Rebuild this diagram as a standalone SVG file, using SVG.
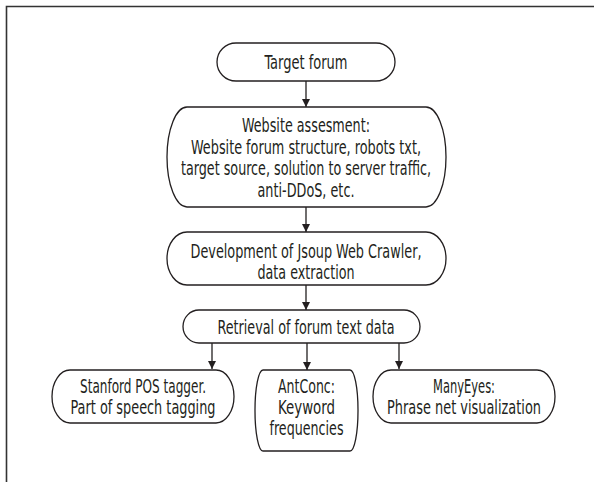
<svg xmlns="http://www.w3.org/2000/svg" width="594" height="482" viewBox="0 0 594 482">
<defs>
<style>
.box{fill:#fff;stroke:#231f20;stroke-width:1.3}
.t{font-family:"Liberation Sans Narrow","DejaVu Sans Condensed","Liberation Sans",sans-serif;font-size:19px;fill:#231f20;text-anchor:middle}
.c{stroke:#231f20;stroke-width:1.3;fill:none;marker-end:url(#ah)}
</style>
<marker id="ah" viewBox="0 0 10 10" refX="10" refY="5" markerWidth="9" markerHeight="8" markerUnits="userSpaceOnUse" orient="auto">
<path d="M0,0 L10,5 L0,10 z" fill="#231f20"/>
</marker>
</defs>
<rect width="594" height="482" fill="#fff"/>
<path d="M6.5,482 V6.5 H594" fill="none" stroke="#333" stroke-width="1.6"/>
<g id="connectors">
<line class="c" x1="306" y1="81" x2="306" y2="107"/>
<line class="c" x1="306" y1="207" x2="306" y2="232"/>
<line class="c" x1="306" y1="285" x2="306" y2="310"/>
<line class="c" x1="212" y1="343" x2="212" y2="369"/>
<line class="c" x1="307" y1="343" x2="307" y2="370"/>
<line class="c" x1="399" y1="343" x2="399" y2="369"/>
</g>
<g id="target">
<rect class="box" x="217" y="43" width="178" height="38" rx="19" ry="19"/>
<text class="t" x="306" y="69" textLength="83" lengthAdjust="spacingAndGlyphs">Target forum</text>
</g>
<g id="assessment">
<rect class="box" x="167" y="107" width="279" height="100" rx="20" ry="50"/>
<text class="t" x="306" y="132" textLength="128" lengthAdjust="spacingAndGlyphs">Website assesment:</text>
<text class="t" x="306" y="154" textLength="230" lengthAdjust="spacingAndGlyphs">Website forum structure, robots txt,</text>
<text class="t" x="306" y="175" textLength="250" lengthAdjust="spacingAndGlyphs">target source, solution to server traffic,</text>
<text class="t" x="306" y="197" textLength="97" lengthAdjust="spacingAndGlyphs">anti-DDoS, etc.</text>
</g>
<g id="development">
<rect class="box" x="167" y="232" width="279" height="53" rx="20" ry="26.5"/>
<text class="t" x="306" y="258" textLength="231" lengthAdjust="spacingAndGlyphs">Development of Jsoup Web Crawler,</text>
<text class="t" x="306" y="279" textLength="97" lengthAdjust="spacingAndGlyphs">data extraction</text>
</g>
<g id="retrieval">
<rect class="box" x="183" y="310" width="237" height="33" rx="16" ry="16.5"/>
<text class="t" x="306" y="334" textLength="177" lengthAdjust="spacingAndGlyphs">Retrieval of forum text data</text>
</g>
<g id="stanford">
<rect class="box" x="52" y="370" width="182" height="53" rx="18" ry="26.5"/>
<text class="t" x="143" y="393" textLength="126" lengthAdjust="spacingAndGlyphs">Stanford POS tagger.</text>
<text class="t" x="143" y="414" textLength="145" lengthAdjust="spacingAndGlyphs">Part of speech tagging</text>
</g>
<g id="antconc">
<rect class="box" x="255" y="370" width="103" height="81" rx="8" ry="40"/>
<text class="t" x="306.5" y="393" textLength="57" lengthAdjust="spacingAndGlyphs">AntConc:</text>
<text class="t" x="306.5" y="414" textLength="57" lengthAdjust="spacingAndGlyphs">Keyword</text>
<text class="t" x="306.5" y="435" textLength="74" lengthAdjust="spacingAndGlyphs">frequencies</text>
</g>
<g id="manyeyes">
<rect class="box" x="373" y="370" width="182" height="53" rx="18" ry="26.5"/>
<text class="t" x="464" y="393" textLength="62" lengthAdjust="spacingAndGlyphs">ManyEyes:</text>
<text class="t" x="464" y="414" textLength="154" lengthAdjust="spacingAndGlyphs">Phrase net visualization</text>
</g>
</svg>
